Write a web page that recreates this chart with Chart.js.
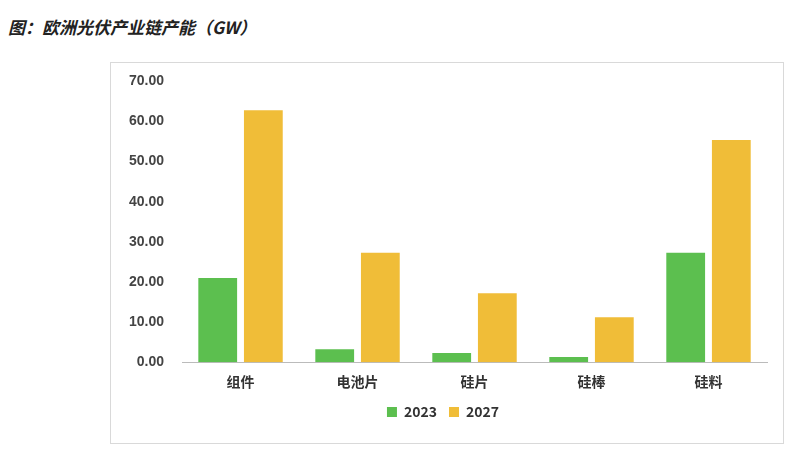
<!DOCTYPE html>
<html><head><meta charset="utf-8">
<script src="https://cdn.jsdelivr.net/npm/chart.js@4"></script>
<style>
body{margin:0;background:#fff;width:795px;height:458px;position:relative;font-family:"Noto Sans CJK SC",sans-serif}
#t{position:absolute;left:8px;top:14px;font-size:17px;font-weight:bold;font-style:italic;color:#222}
#box{position:absolute;left:110px;top:62px;width:672px;height:380px;border:1px solid #d9d9d9}
</style></head><body>
<div id="t">图：欧洲光伏产业链产能（GW）</div>
<div id="box"><canvas id="c"></canvas></div>
<script>
const categories=["组件","电池片","硅片","硅棒","硅料"];
const s2023=[21.0,3.2,2.3,1.3,27.3];
const s2027=[62.8,27.3,17.2,11.2,55.4];
const yTicks=[0,10,20,30,40,50,60,70];
new Chart(document.getElementById('c'),{type:'bar',
data:{labels:categories,datasets:[
{label:'2023',data:s2023,backgroundColor:'#5cbf4f'},
{label:'2027',data:s2027,backgroundColor:'#f0bd38'}]},
options:{responsive:true,maintainAspectRatio:false,animation:false,
layout:{padding:{left:8,right:16,top:12,bottom:14}},
datasets:{bar:{categoryPercentage:0.78,barPercentage:0.85}},
plugins:{legend:{position:'bottom',labels:{boxWidth:10,boxHeight:10,padding:12,font:{size:14,weight:'bold',family:"Noto Sans CJK SC"},color:'#333'}},tooltip:{enabled:false}},
scales:{x:{grid:{display:false},border:{color:'#bbb'},ticks:{font:{size:14,weight:'bold',family:"Noto Sans CJK SC"},color:'#333'}},
y:{min:0,max:70,afterBuildTicks:a=>{a.ticks=yTicks.map(v=>({value:v}))},grid:{display:false},border:{display:false},
ticks:{callback:v=>v.toFixed(2),font:{size:14,weight:'bold'},color:'#444',padding:10}}}}});
</script></body></html>
